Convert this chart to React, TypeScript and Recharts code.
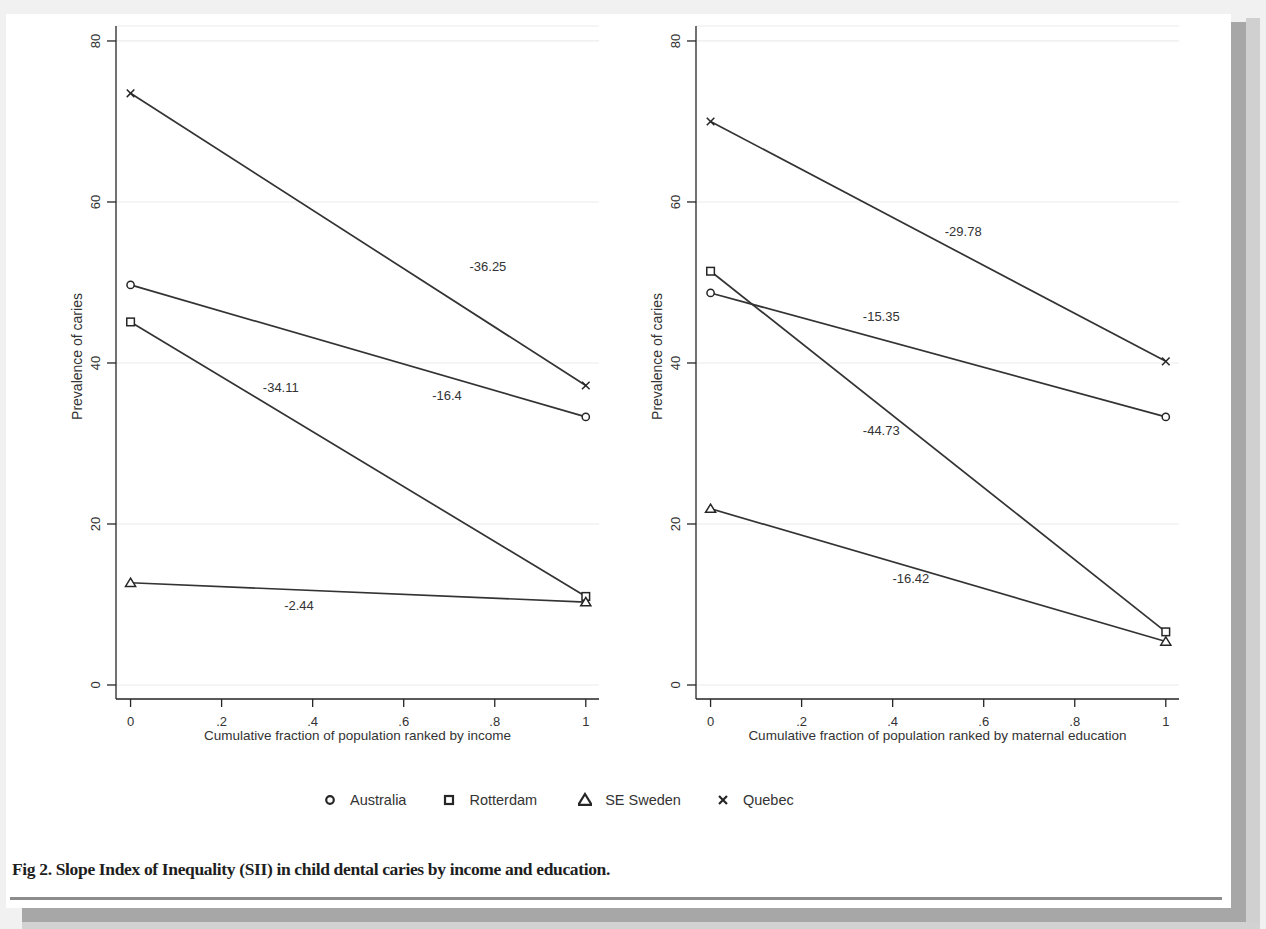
import { CartesianGrid, Line, LineChart, ReferenceDot, XAxis, YAxis } from "recharts";

// x positions: bottom and top of the ranked population
const fractions = [0, 1];
const countries = ["Australia", "Rotterdam", "SE Sweden", "Quebec"];
const markerKinds = ["circle", "square", "triangle", "cross"];

// prevalence of caries (%), panel 1: ranked by income
const incomeAustralia = [49.7, 33.3];
const incomeRotterdam = [45.1, 11.0];
const incomeSweden = [12.7, 10.3];
const incomeQuebec = [73.5, 37.2];

// panel 2: ranked by maternal education
const educAustralia = [48.7, 33.3];
const educRotterdam = [51.4, 6.6];
const educSweden = [21.9, 5.4];
const educQuebec = [70.0, 40.2];

// slope index of inequality, written next to each line
const incomeSII = ["-16.4", "-34.11", "-2.44", "-36.25"];
const incomeSIIx = [0.695, 0.33, 0.37, 0.785];
const incomeSIIy = [35.9, 36.9, 9.9, 52.0];
const educSII = ["-15.35", "-44.73", "-16.42", "-29.78"];
const educSIIx = [0.375, 0.375, 0.44, 0.555];
const educSIIy = [45.8, 31.6, 13.2, 56.3];

const xTicks = [0, 0.2, 0.4, 0.6, 0.8, 1];
const yTicks = [0, 20, 40, 60, 80];

const ink = "#262626";
const txt = "#333";
const sans = "'Liberation Sans', Arial, sans-serif";

function buildRows(series: number[][]) {
  return fractions.map((f, i) => {
    const row: Record<string, number> = { f };
    countries.forEach((c, k) => (row[c] = series[k][i]));
    return row;
  });
}

const incomeRows = buildRows([incomeAustralia, incomeRotterdam, incomeSweden, incomeQuebec]);
const educRows = buildRows([educAustralia, educRotterdam, educSweden, educQuebec]);

function fmtFrac(v: number) {
  if (v === 0 || v === 1) return String(v);
  return String(v).replace(/^0/, "");
}

function Marker({ kind, cx, cy, s = 1, w = 1.5 }: { kind: string; cx: number; cy: number; s?: number; w?: number }) {
  if (kind === "circle") return <circle cx={cx} cy={cy} r={3.6 * s} fill="#fff" stroke={ink} strokeWidth={w} />;
  if (kind === "square")
    return <rect x={cx - 3.8 * s} y={cy - 3.8 * s} width={7.6 * s} height={7.6 * s} fill="#fff" stroke={ink} strokeWidth={w} />;
  if (kind === "triangle") {
    const h = 4.6 * s;
    return (
      <polygon
        points={`${cx},${cy - h} ${cx + h * 1.1},${cy + h * 0.8} ${cx - h * 1.1},${cy + h * 0.8}`}
        fill="#fff"
        stroke={ink}
        strokeWidth={w}
      />
    );
  }
  const d = 3.8 * s;
  return (
    <g stroke={ink} strokeWidth={w}>
      <line x1={cx - d} y1={cy - d} x2={cx + d} y2={cy + d} />
      <line x1={cx - d} y1={cy + d} x2={cx + d} y2={cy - d} />
    </g>
  );
}

function XTick({ x, y, payload }: any) {
  return (
    <text x={x} y={y} textAnchor="middle" dominantBaseline="central" fontSize={13} fill={txt} fontFamily={sans}>
      {fmtFrac(payload.value)}
    </text>
  );
}

function YTick({ x, y, payload }: any) {
  return (
    <text
      x={x}
      y={y}
      transform={`rotate(-90 ${x} ${y})`}
      textAnchor="middle"
      dominantBaseline="central"
      fontSize={13}
      fill={txt}
      fontFamily={sans}
    >
      {payload.value}
    </text>
  );
}

function Panel({
  rows,
  sii,
  siiX,
  siiY,
  xTitle,
  left,
}: {
  rows: Record<string, number>[];
  sii: string[];
  siiX: number[];
  siiY: number[];
  xTitle: string;
  left: number;
}) {
  return (
    <div style={{ position: "absolute", left, top: 0 }}>
      <LineChart width={600} height={760} data={rows} margin={{ top: 26, right: 41, bottom: 31, left: 36 }}>
        <CartesianGrid vertical={false} stroke="#ececec" strokeWidth={1.2} />
        <XAxis
          type="number"
          dataKey="f"
          domain={[-0.032, 1.029]}
          allowDataOverflow
          ticks={xTicks}
          height={30}
          tickSize={8}
          tickMargin={14}
          tick={<XTick />}
          stroke={ink}
          strokeWidth={1.3}
          label={{
            content: ({ viewBox }: any) => (
              <text
                x={viewBox.x + viewBox.width / 2}
                y={viewBox.y + 36}
                textAnchor="middle"
                dominantBaseline="central"
                fontSize={13.5}
                fill={txt}
                fontFamily={sans}
              >
                {xTitle}
              </text>
            ),
          }}
        />
        <YAxis
          type="number"
          domain={[-1.74, 81.86]}
          allowDataOverflow
          ticks={yTicks}
          width={40}
          tickSize={9}
          tickMargin={11}
          tick={<YTick />}
          stroke={ink}
          strokeWidth={1.3}
          label={{
            content: ({ viewBox }: any) => {
              const cx = viewBox.x + 1;
              const cy = viewBox.y + viewBox.height / 2 - 6;
              return (
                <text
                  x={cx}
                  y={cy}
                  transform={`rotate(-90 ${cx} ${cy})`}
                  textAnchor="middle"
                  dominantBaseline="central"
                  fontSize={14}
                  fill={txt}
                  fontFamily={sans}
                >
                  Prevalence of caries
                </text>
              );
            },
          }}
        />
        {countries.map((c, k) => (
          <Line
            key={c}
            dataKey={c}
            type="linear"
            stroke="#333"
            strokeWidth={1.7}
            isAnimationActive={false}
            dot={(p: any) => <Marker key={`${c}-${p.index}`} kind={markerKinds[k]} cx={p.cx} cy={p.cy} />}
            activeDot={false}
          />
        ))}
        {sii.map((s, k) => (
          <ReferenceDot
            key={s}
            x={siiX[k]}
            y={siiY[k]}
            r={0}
            shape={(p: any) => (
              <text
                x={p.cx}
                y={p.cy}
                textAnchor="middle"
                dominantBaseline="central"
                fontSize={13}
                fill={txt}
                fontFamily={sans}
              >
                {s}
              </text>
            )}
          />
        ))}
      </LineChart>
    </div>
  );
}

function LegendRow() {
  const gaps = [36, 41, 35, 0];
  return (
    <div
      style={{
        position: "absolute",
        left: 323,
        top: 790,
        display: "flex",
        alignItems: "center",
        fontFamily: sans,
        fontSize: 14.5,
        color: txt,
        lineHeight: "20px",
      }}
    >
      {countries.map((c, k) => (
        <div key={c} style={{ display: "flex", alignItems: "center", marginRight: gaps[k] }}>
          <svg width={14} height={16} style={{ marginRight: 13 }}>
            <Marker kind={markerKinds[k]} cx={7} cy={8} s={k === 2 ? 1.3 : 1.05} w={2.2} />
          </svg>
          <span>{c}</span>
        </div>
      ))}
    </div>
  );
}

export default function App() {
  return (
    <div
      style={{
        position: "absolute",
        left: 0,
        top: 0,
        width: 1266,
        height: 929,
        background: "#f1f1f1",
        overflow: "hidden",
      }}
    >
      <div style={{ position: "absolute", left: 6, top: 14, width: 1225, height: 894, background: "#fff" }} />
      <div style={{ position: "absolute", left: 1231, top: 22, width: 15, height: 900, background: "#a7a7a7" }} />
      <div style={{ position: "absolute", left: 1246, top: 18, width: 14, height: 911, background: "#d0d0d0" }} />
      <div style={{ position: "absolute", left: 22, top: 908, width: 1224, height: 14, background: "#a7a7a7" }} />
      <div style={{ position: "absolute", left: 22, top: 922, width: 1238, height: 7, background: "#d2d2d2" }} />

      <Panel
        rows={incomeRows}
        sii={incomeSII}
        siiX={incomeSIIx}
        siiY={incomeSIIy}
        xTitle="Cumulative fraction of population ranked by income"
        left={40}
      />
      <Panel
        rows={educRows}
        sii={educSII}
        siiX={educSIIx}
        siiY={educSIIy}
        xTitle="Cumulative fraction of population ranked by maternal education"
        left={620}
      />

      <LegendRow />

      <div
        style={{
          position: "absolute",
          left: 12,
          top: 860,
          fontFamily: "'Liberation Serif', 'Times New Roman', serif",
          fontWeight: "bold",
          fontSize: 17.5,
          lineHeight: "18px",
          letterSpacing: -0.35,
          color: "#1e1e1e",
          whiteSpace: "nowrap",
        }}
      >
        Fig 2. Slope Index of Inequality (SII) in child dental caries by income and education.
      </div>
      <div style={{ position: "absolute", left: 10, top: 897, width: 1212, height: 3, background: "#8c8c8c" }} />
    </div>
  );
}
